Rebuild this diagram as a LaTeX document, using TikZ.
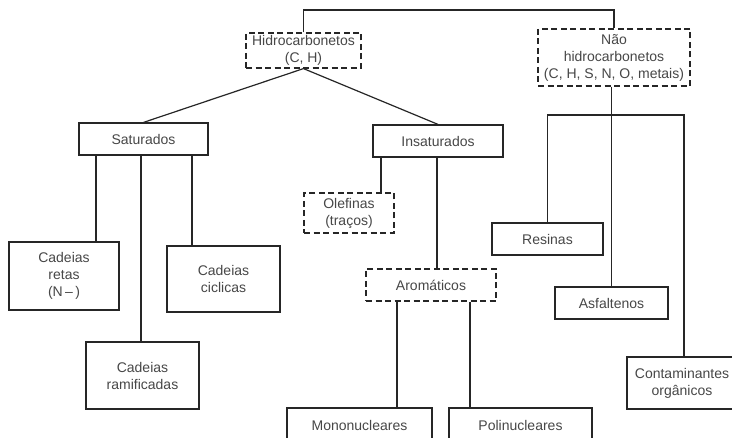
\documentclass[tikz,border=0pt]{standalone}
\usepackage{fontspec}
\setmainfont{Liberation Sans}
\begin{document}
\begin{tikzpicture}[x=1pt,y=-1pt,
  every node/.style={font=\fontsize{14}{17}\selectfont, text=black!72, align=center, inner sep=0pt},
  box/.style={draw=black!85, line width=1.2pt, rectangle},
  dbox/.style={box, dash pattern=on 6pt off 3.5pt},
  conn/.style={draw=black!85, line width=1.2pt}]
\useasboundingbox (0,0) rectangle (732,438);
\clip (0,0) rectangle (732,438);
\fill[white] (0,0) rectangle (732,438);
% nodes
\node[dbox, minimum width=115pt, minimum height=35pt] (hidro) at (303.5,50.5) {Hidrocarbonetos\\(C, H)};
\node[dbox, minimum width=152pt, minimum height=57pt] (nao) at (614,57.5) {Não\\hidrocarbonetos\\(C, H, S, N, O, metais)};
\node[box, minimum width=129pt, minimum height=32pt] (sat) at (143.5,139) {Saturados};
\node[box, minimum width=130pt, minimum height=32pt] (ins) at (438,141) {Insaturados};
\node[dbox, minimum width=90pt, minimum height=40pt] (olef) at (349,213) {Olefinas\\(traços)};
\node[dbox, minimum width=130pt, minimum height=32pt] (arom) at (431,285) {Aromáticos};
\node[box, minimum width=110pt, minimum height=68pt] (retas) at (64,276) {Cadeias\\retas\\(N\,–\,)};
\node[box, minimum width=113pt, minimum height=66pt] (cicl) at (223.5,279) {Cadeias\\ciclicas};
\node[box, minimum width=113pt, minimum height=67pt] (ramif) at (142.5,375.5) {Cadeias\\ramificadas};
\node[box, minimum width=145pt, minimum height=34pt] (mono) at (359.5,425) {Mononucleares};
\node[box, minimum width=143pt, minimum height=34pt] (poli) at (520.5,425) {Polinucleares};
\node[box, minimum width=111pt, minimum height=32pt] (res) at (547.5,239) {Resinas};
\node[box, minimum width=113pt, minimum height=32pt] (asf) at (611.5,303) {Asfaltenos};
\node[box, minimum width=110pt, minimum height=52pt] (cont) at (682,383) {Contaminantes\\orgânicos};
% helper coordinates
\coordinate (top) at (0,10);
\coordinate (s1) at (96,0);
\coordinate (s2) at (141,0);
\coordinate (s3) at (192,0);
\coordinate (i1) at (381,0);
\coordinate (i2) at (437,0);
\coordinate (a1) at (397,0);
\coordinate (a2) at (470,0);
\coordinate (n1) at (611.5,0);
\coordinate (hl) at (547.5,115);
\coordinate (hr) at (684,115);
% connectors
\draw[conn] (hidro.north) |- (top -| nao.north) -- (nao.north);
\draw[conn] (hidro.south) -- (sat.north);
\draw[conn] (hidro.south) -- (ins.north);
\draw[conn] (sat.south -| s1) -- (retas.north -| s1);
\draw[conn] (sat.south -| s2) -- (ramif.north -| s2);
\draw[conn] (sat.south -| s3) -- (cicl.north -| s3);
\draw[conn] (ins.south -| i1) -- (olef.north -| i1);
\draw[conn] (ins.south -| i2) -- (arom.north -| i2);
\draw[conn] (arom.south -| a1) -- (mono.north -| a1);
\draw[conn] (arom.south -| a2) -- (poli.north -| a2);
\draw[conn] (nao.south -| n1) -- (asf.north -| n1);
\draw[conn] (res.north) -- (hl) -- (hr) -- (cont.north -| hr);
\end{tikzpicture}
\end{document}
